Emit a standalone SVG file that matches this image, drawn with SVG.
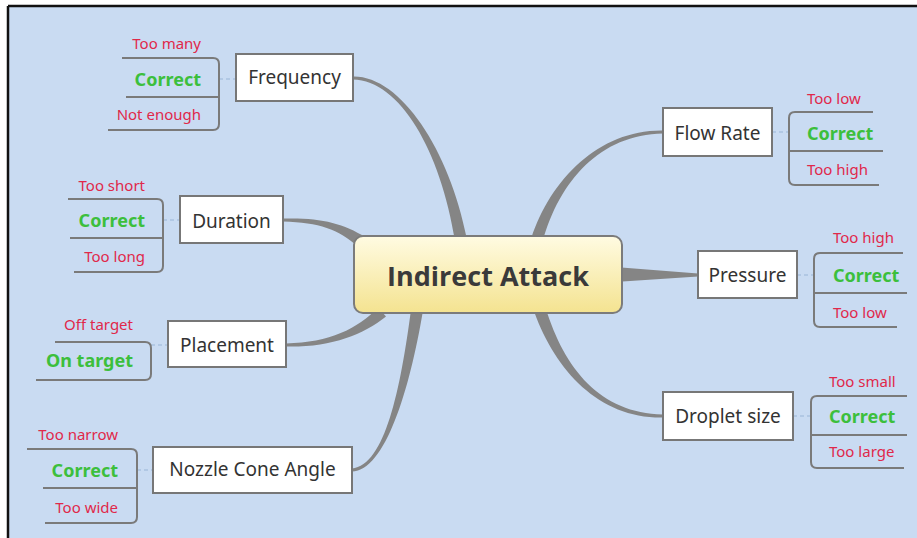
<svg xmlns="http://www.w3.org/2000/svg" width="917" height="538" viewBox="0 0 917 538">
<defs>
<linearGradient id="cg" x1="0" y1="0" x2="0" y2="1">
<stop offset="0" stop-color="#fffbe2"/>
<stop offset="1" stop-color="#f4e390"/>
</linearGradient>
<style>
.conn{fill:#858585;stroke:none}
.br{fill:none;stroke:#7a7a7a;stroke-width:2}
.dash{fill:none;stroke:#a9c2e0;stroke-width:1.5;stroke-dasharray:4 3}
.box{fill:#ffffff;stroke:#777777;stroke-width:2}
.lbl{font-family:"Noto Sans","Open Sans",sans-serif;font-size:19px;fill:#333333;text-anchor:middle}
.bad{font-family:"Noto Sans","Open Sans",sans-serif;font-size:15px;fill:#e0284a}
.ok{font-family:"Noto Sans","Open Sans",sans-serif;font-size:18px;font-weight:bold;fill:#3cbf3c}
.l{text-anchor:end}
.r{text-anchor:start}
</style>
</defs>
<rect x="0" y="0" width="917" height="538" fill="#ffffff"/>
<rect x="9" y="7" width="908" height="531" fill="#c9dbf2"/>
<path d="M8,6 H917 M8,6 V538" stroke="#111111" stroke-width="2.5" fill="none"/>

<g id="connectors">
<path class="conn" d="M353,76.5 C400,75.5 449.4,149.2 466.9,238.9 L455.1,241.1 C440.6,150.8 400,80.5 353,79.5 Z"/>
<path class="conn" d="M663,130.5 C600,129.5 550.7,178.7 531.3,238.3 L542.7,241.7 C559.3,181.3 600,134.5 663,133.5 Z"/>
<path class="conn" d="M283,218.5 C320,217.5 342.4,222.8 365.5,237.1 L358.5,246.9 C337.6,229.2 320,222.5 283,221.5 Z"/>
<path class="conn" d="M286,343.5 C330,342.5 357.3,329 378,307.6 L386,316.4 C362.7,335 330,347.5 286,346.5 Z"/>
<path class="conn" d="M352,468.5 C385,465.5 400.5,389.3 411.1,309.1 L422.9,310.9 C409.5,390.7 385,470.5 352,471.5 Z"/>
<path class="conn" d="M698,273.5 L698,276.5 L615,282 L615,267 Z"/>
<path class="conn" d="M663,414.5 C600,413.5 564.3,368.6 545.7,308.1 L534.3,311.9 C555.7,371.4 600,418.5 663,417.5 Z"/>
<path class="dash" d="M219,79 H236 M163,220 H180 M151,345 H168 M137,470 H153 M772,132 H789 M797,275 H814 M793,416 H811"/>
</g>

<g id="center">
<rect x="354" y="236" width="268" height="77" rx="9" fill="url(#cg)" stroke="#7b7b7b" stroke-width="2"/>
<text x="488" y="286" font-family="'Open Sans','Noto Sans',sans-serif" font-size="27" font-weight="bold" fill="#3a3a3a" text-anchor="middle">Indirect Attack</text>
</g>

<g id="frequency">
<rect class="box" x="236" y="54" width="117" height="47"/>
<text class="lbl" x="294.5" y="84">Frequency</text>
<path class="br" d="M122,58 H213 Q219,58 219,64 V124 Q219,130 213,130 H108 M126,97 H219"/>
<text class="bad l" x="201" y="49">Too many</text>
<text class="ok l" x="201" y="86">Correct</text>
<text class="bad l" x="201" y="120">Not enough</text>
</g>

<g id="duration">
<rect class="box" x="180" y="196" width="103" height="47"/>
<text class="lbl" x="231.5" y="228">Duration</text>
<path class="br" d="M68,199 H157 Q163,199 163,205 V266 Q163,272 157,272 H74 M70,238 H163"/>
<text class="bad l" x="145" y="191">Too short</text>
<text class="ok l" x="145" y="227">Correct</text>
<text class="bad l" x="145" y="262">Too long</text>
</g>

<g id="placement">
<rect class="box" x="168" y="321" width="118" height="46"/>
<text class="lbl" x="227" y="352">Placement</text>
<path class="br" d="M55,342 H145 Q151,342 151,348 V374 Q151,380 145,380 H36"/>
<text class="bad l" x="133" y="330">Off target</text>
<text class="ok l" x="133" y="367">On target</text>
</g>

<g id="nozzle">
<rect class="box" x="153" y="447" width="199" height="46"/>
<text class="lbl" x="252.5" y="476">Nozzle Cone Angle</text>
<path class="br" d="M27,449 H131 Q137,449 137,455 V517 Q137,523 131,523 H45 M43,488 H137"/>
<text class="bad l" x="118" y="440">Too narrow</text>
<text class="ok l" x="118" y="477">Correct</text>
<text class="bad l" x="118" y="513">Too wide</text>
</g>

<g id="flowrate">
<rect class="box" x="663" y="108" width="109" height="48"/>
<text class="lbl" x="717.5" y="140">Flow Rate</text>
<path class="br" d="M873,112 H795 Q789,112 789,118 V179 Q789,185 795,185 H879 M789,151 H883"/>
<text class="bad r" x="807" y="104">Too low</text>
<text class="ok r" x="807" y="140">Correct</text>
<text class="bad r" x="807" y="175">Too high</text>
</g>

<g id="pressure">
<rect class="box" x="698" y="251" width="99" height="47"/>
<text class="lbl" x="747.5" y="282">Pressure</text>
<path class="br" d="M903,253 H820 Q814,253 814,259 V321 Q814,327 820,327 H897 M814,293 H907"/>
<text class="bad r" x="833" y="243">Too high</text>
<text class="ok r" x="833" y="282">Correct</text>
<text class="bad r" x="833" y="318">Too low</text>
</g>

<g id="droplet">
<rect class="box" x="663" y="392" width="130" height="48"/>
<text class="lbl" x="728" y="423">Droplet size</text>
<path class="br" d="M907,396 H817 Q811,396 811,402 V462 Q811,468 817,468 H904 M811,435 H907"/>
<text class="bad r" x="829" y="387">Too small</text>
<text class="ok r" x="829" y="423">Correct</text>
<text class="bad r" x="829" y="457">Too large</text>
</g>
</svg>
